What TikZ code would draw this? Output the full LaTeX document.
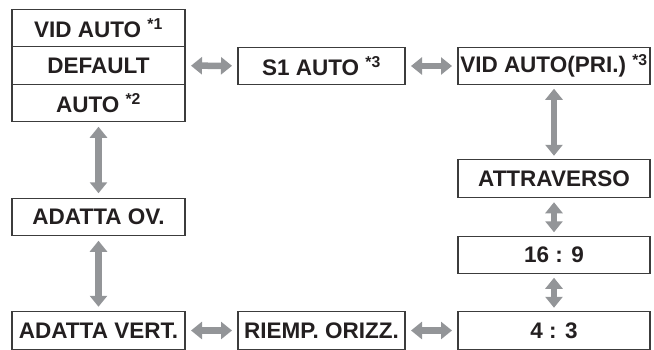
\documentclass[tikz,border=0pt]{standalone}
\usepackage{fontspec}
\setmainfont{Liberation Sans}
\usepackage{xcolor}
\usetikzlibrary{positioning, arrows.meta}

\definecolor{arrowgray}{HTML}{939598}
\definecolor{boxline}{HTML}{3C3C3C}
\definecolor{boxtext}{HTML}{231F20}

\begin{document}
\begin{tikzpicture}[
    x=1pt, y=-1pt,
    node distance=0pt,
    box/.style={
        rectangle,
        draw=boxline,
        line width=1.2pt,
        text=boxtext,
        inner sep=0pt,
        outer sep=0pt,
        minimum height=37.5pt,
        font=\bfseries\fontsize{22.5}{24}\selectfont
    },
    wide/.style={box, minimum width=173pt},
    mid/.style={box, minimum width=167pt},
    right/.style={box, minimum width=192pt},
    arrow/.style={
        {Triangle[width=17pt,length=11pt]}-{Triangle[width=17pt,length=11pt]},
        line width=6.5pt,
        draw=arrowgray,
        shorten >=6pt,
        shorten <=6pt
    }
]
\useasboundingbox (0,0) rectangle (654,349);

% Left column, top stack
\node (vidauto) [wide] at (98.5,28) {VID AUTO \textsuperscript{*1}};
\node (default) [wide, below=of vidauto] {DEFAULT};
\node (auto) [wide, below=of default] {AUTO \textsuperscript{*2}};

% Top row
\node (s1) [mid] at (321.5,66) {S1 AUTO \textsuperscript{*3}};
\node (vidpri) [right] at (554,66) {VID AUTO(PRI.) \textsuperscript{*3}};

% Right column
\node (attraverso) [right] at (554,178.5) {ATTRAVERSO};
\node (sedici) [right] at (554,255) {16 : 9};
\node (quattro) [right] at (554,330.5) {4 : 3};

% Left column, lower part
\node (adattaov) [wide] at (98.5,217) {ADATTA OV.};
\node (vert) [wide] at (98.5,330.5) {ADATTA VERT.};

% Bottom row
\node (riemp) [mid] at (321.5,330.5) {RIEMP. ORIZZ.};

% Connections
\draw [arrow] (default) -- (s1);
\draw [arrow] (s1) -- (vidpri);
\draw [arrow, shorten >=4pt, shorten <=4pt] (vidpri) -- (attraverso);
\draw [arrow, shorten >=4pt, shorten <=5pt] (attraverso) -- (sedici);
\draw [arrow, shorten >=4pt, shorten <=4pt] (sedici) -- (quattro);
\draw [arrow] (quattro) -- (riemp);
\draw [arrow] (riemp) -- (vert);
\draw [arrow, shorten >=5pt, shorten <=5pt] (vert) -- (adattaov);
\draw [arrow, shorten >=5pt, shorten <=5pt] (adattaov) -- (auto);

\end{tikzpicture}
\end{document}
